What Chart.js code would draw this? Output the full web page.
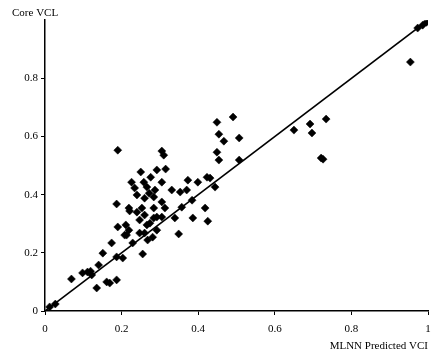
<!DOCTYPE html>
<html>
<head>
<meta charset="utf-8">
<script src="https://cdn.jsdelivr.net/npm/chart.js@4/dist/chart.umd.min.js"></script>
<style>
  html, body { margin: 0; padding: 0; background: #ffffff; }
  #wrap { width: 435px; height: 355px; position: relative; }
</style>
</head>
<body>
<div id="wrap"><canvas id="c" width="435" height="355"></canvas></div>
<script>
// MLNN predicted VCL (x) and core VCL (y)
const predictedVCL = [
  0.012, 0.027, 0.069, 0.098, 0.111, 0.119, 0.122, 0.140, 0.135, 0.161,
  0.169, 0.187, 0.151, 0.174, 0.187, 0.203, 0.190, 0.211, 0.213, 0.187,
  0.221, 0.229, 0.247, 0.255, 0.268, 0.281, 0.274, 0.247, 0.266, 0.292,
  0.292, 0.260, 0.208, 0.219, 0.339, 0.349, 0.386, 0.425, 0.418, 0.357,
  0.384, 0.353, 0.370, 0.373, 0.399, 0.423, 0.431, 0.444, 0.331, 0.305,
  0.305, 0.313, 0.305, 0.284, 0.284, 0.284, 0.260, 0.253, 0.219, 0.240,
  0.234, 0.266, 0.287, 0.226, 0.258, 0.276, 0.250, 0.292, 0.315, 0.260,
  0.190, 0.305, 0.310, 0.449, 0.491, 0.454, 0.467, 0.507, 0.449, 0.454,
  0.507, 0.650, 0.692, 0.697, 0.734, 0.726, 0.721, 0.954, 0.973, 0.986,
  0.996, 0.240, 0.272
];
const coreVCL = [
  0.014, 0.024, 0.110, 0.131, 0.134, 0.137, 0.124, 0.158, 0.079, 0.100,
  0.096, 0.107, 0.199, 0.234, 0.186, 0.182, 0.289, 0.296, 0.261, 0.368,
  0.344, 0.234, 0.268, 0.196, 0.244, 0.254, 0.302, 0.313, 0.296, 0.323,
  0.278, 0.268, 0.261, 0.278, 0.320, 0.265, 0.320, 0.309, 0.354, 0.357,
  0.381, 0.409, 0.416, 0.450, 0.443, 0.460, 0.457, 0.426, 0.416, 0.443,
  0.375, 0.354, 0.323, 0.320, 0.354, 0.392, 0.388, 0.354, 0.354, 0.399,
  0.423, 0.426, 0.416, 0.443, 0.443, 0.460, 0.478, 0.485, 0.488, 0.330,
  0.553, 0.550, 0.536, 0.649, 0.667, 0.608, 0.584, 0.595, 0.546, 0.519,
  0.519, 0.622, 0.643, 0.612, 0.660, 0.522, 0.526, 0.856, 0.973, 0.983,
  0.993, 0.340, 0.405
];
// 1:1 reference line
const lineX = [0, 1];
const lineY = [0, 1];
// axis tick values and labels
const xTicks = [0, 0.2, 0.4, 0.6, 0.8, 1];
const xTickLabels = ['0', '0.2', '0.4', '0.6', '0.8', '1'];
const yTicks = [0, 0.2, 0.4, 0.6, 0.8];
const yTickLabels = ['0', '0.2', '0.4', '0.6', '0.8'];

const xTitle = 'MLNN Predicted VCI';
const yTitle = 'Core VCL';

const scatterPts = predictedVCL.map((x, i) => ({ x: x, y: coreVCL[i] }));
const linePts = lineX.map((x, i) => ({ x: x, y: lineY[i] }));

const serif = '"Liberation Serif", "DejaVu Serif", serif';

new Chart(document.getElementById('c'), {
  type: 'scatter',
  data: {
    datasets: [
      {
        type: 'line',
        data: linePts,
        borderColor: '#000000',
        borderWidth: 1.6,
        pointRadius: 0,
        fill: false,
        order: 2
      },
      {
        data: scatterPts,
        pointStyle: 'rectRot',
        pointRadius: 4,
        backgroundColor: '#000000',
        borderColor: '#000000',
        borderWidth: 0.5,
        order: 1
      }
    ]
  },
  options: {
    responsive: false,
    animation: false,
    events: [],
    layout: { padding: { left: 12, right: 3, top: 5, bottom: 0 } },
    plugins: {
      legend: { display: false },
      tooltip: { enabled: false },
      title: {
        display: true,
        text: yTitle,
        align: 'start',
        color: '#000000',
        font: { family: serif, size: 11, weight: 'normal' },
        padding: { top: 2, bottom: 0 }
      }
    },
    scales: {
      x: {
        type: 'linear',
        min: 0,
        max: 1,
        afterBuildTicks: (s) => { s.ticks = xTicks.map(v => ({ value: v })); },
        afterFit: (s) => { s.height = 44; s.paddingRight = 7; },
        ticks: {
          color: '#000000',
          font: { family: serif, size: 11 },
          padding: 8,
          maxRotation: 0,
          callback: (v, i) => xTickLabels[i]
        },
        grid: {
          drawOnChartArea: false,
          drawTicks: true,
          tickLength: 4,
          color: '#000000',
          lineWidth: 1
        },
        border: { display: true, color: '#000000', width: 1.5 },
        title: {
          display: true,
          text: xTitle,
          align: 'end',
          color: '#000000',
          font: { family: serif, size: 11 },
          padding: { top: 0, bottom: 2 }
        }
      },
      y: {
        type: 'linear',
        min: 0,
        max: 1,
        afterBuildTicks: (s) => { s.ticks = yTicks.map(v => ({ value: v })); },
        afterFit: (s) => { s.width = 33; },
        ticks: {
          color: '#000000',
          font: { family: serif, size: 11 },
          padding: 3,
          callback: (v, i) => yTickLabels[i]
        },
        grid: {
          drawOnChartArea: false,
          drawTicks: true,
          tickLength: 4,
          color: '#000000',
          lineWidth: 1
        },
        border: { display: true, color: '#000000', width: 1.5 }
      }
    }
  }
});
</script>
</body>
</html>
